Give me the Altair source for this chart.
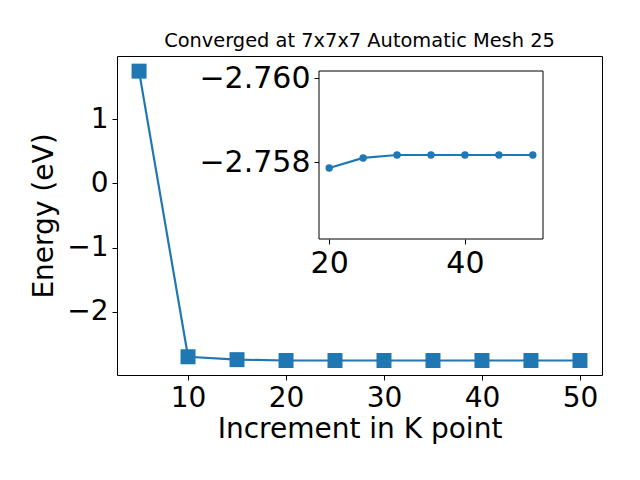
import altair as alt
import pandas as pd

# Data
k_points = [5, 10, 15, 20, 25, 30, 35, 40, 45, 50]
energies = [1.75, -2.70, -2.745, -2.75786, -2.75810, -2.75817, -2.75817, -2.75817, -2.75817, -2.75817]
inset_k = k_points[3:]
inset_e = energies[3:]

main_x_ticks = [10, 20, 30, 40, 50]
main_y_ticks = [-2, -1, 0, 1]
inset_x_ticks = [20, 40]
inset_y_ticks = [-2.760, -2.758]

main_x_domain = [2.75, 52.25]
main_y_domain = [-2.984, 1.986]
inset_x_domain = [18.5, 51.5]
inset_y_domain = [-2.76017, -2.75617]

W, H = 485, 319
inset_x_range = [202, 426]
inset_y_range = [15, 183]

FONT = "DejaVu Sans"
BLUE = "#1f77b4"
FS = 28
FS_INSET = 30

main_df = pd.DataFrame({"k": k_points, "E": energies})
inset_df = pd.DataFrame({"k": inset_k, "E": inset_e})
frame_df = pd.DataFrame({"x": [inset_x_domain[0]], "x2": [inset_x_domain[1]],
                         "y": [inset_y_domain[0]], "y2": [inset_y_domain[1]]})

mx = alt.X("k:Q", scale=alt.Scale(domain=main_x_domain, nice=False, zero=False),
           axis=alt.Axis(values=main_x_ticks, title="Increment in K point", grid=False,
                         domain=False, labelFontSize=FS, titleFontSize=FS,
                         titleFontWeight="normal", tickSize=5, labelPadding=4, titlePadding=3))
my = alt.Y("E:Q", scale=alt.Scale(domain=main_y_domain, nice=False, zero=False),
           axis=alt.Axis(values=main_y_ticks, title="Energy (eV)", grid=False,
                         domain=False, labelFontSize=FS, titleFontSize=FS,
                         titleFontWeight="normal", tickSize=5, labelPadding=4, titlePadding=8))

main_base = alt.Chart(main_df).encode(x=mx, y=my)
main_layer = alt.layer(
    main_base.mark_line(color=BLUE, strokeWidth=2.2),
    main_base.mark_point(shape="square", filled=True, size=225, color=BLUE, opacity=1),
)

ix_scale = alt.Scale(domain=inset_x_domain, range=inset_x_range, nice=False, zero=False)
iy_scale = alt.Scale(domain=inset_y_domain, range=inset_y_range, nice=False, zero=False)
ix_axis = alt.Axis(orient="bottom", offset=-(H - inset_y_range[1]), values=inset_x_ticks,
                   title=None, grid=False, domain=False, labelFontSize=FS_INSET, tickSize=5,
                   labelPadding=4)
iy_axis = alt.Axis(orient="left", offset=-inset_x_range[0], values=inset_y_ticks,
                   format=".3f", title=None, grid=False, domain=False,
                   labelFontSize=FS_INSET, tickSize=5, labelPadding=4)

frame = alt.Chart(frame_df).mark_rect(fill="white", stroke="black", strokeWidth=1).encode(
    x=alt.X("x:Q", scale=ix_scale, axis=ix_axis),
    x2="x2:Q",
    y=alt.Y("y:Q", scale=iy_scale, axis=iy_axis),
    y2="y2:Q",
)
inset_base = alt.Chart(inset_df).encode(
    x=alt.X("k:Q", scale=ix_scale, axis=ix_axis),
    y=alt.Y("E:Q", scale=iy_scale, axis=iy_axis),
)
inset_layer = alt.layer(
    frame,
    inset_base.mark_line(color=BLUE, strokeWidth=2.2),
    inset_base.mark_point(shape="circle", filled=True, size=55, color=BLUE, opacity=1),
)

chart = alt.layer(main_layer, inset_layer).resolve_scale(
    x="independent", y="independent"
).properties(
    width=W, height=H,
    background="white",
    title=alt.TitleParams(text="Converged at 7x7x7 Automatic Mesh 25", fontSize=19.4,
                          font=FONT, fontWeight="normal", anchor="middle", offset=5,
                          color="black"),
    padding={"left": 22, "top": 22, "right": 5, "bottom": 5},
).configure_view(
    stroke="black", strokeWidth=1
).configure_axis(
    labelFont=FONT, titleFont=FONT, labelColor="black", titleColor="black",
    tickColor="black", tickWidth=1
)

chart.save("out.html", embed_options={"renderer": "svg", "actions": False})
